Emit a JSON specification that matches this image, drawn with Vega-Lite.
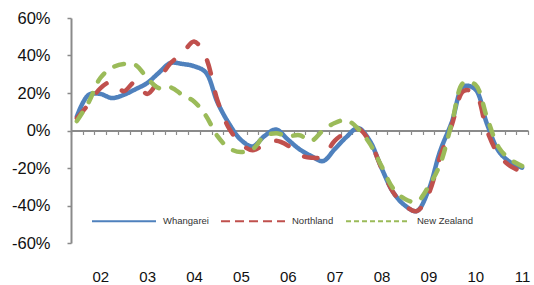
{
  "$schema": "https://vega.github.io/schema/vega-lite/v6.json",
  "width": 457,
  "height": 225,
  "autosize": {"type": "none"},
  "padding": {"left": 71, "top": 18, "right": 6, "bottom": 42},
  "background": "white",
  "config": {"view": {"stroke": null}, "font": "Liberation Sans"},
  "data": {"values": [
    {"q":0,"s":"Whangarei","v":7.5},{"q":1,"s":"Whangarei","v":19},{"q":2,"s":"Whangarei","v":19.5},{"q":3,"s":"Whangarei","v":17.3},{"q":4,"s":"Whangarei","v":19},{"q":5,"s":"Whangarei","v":22},{"q":6,"s":"Whangarei","v":25.3},{"q":7,"s":"Whangarei","v":30.8},{"q":8,"s":"Whangarei","v":36},{"q":9,"s":"Whangarei","v":35.5},{"q":10,"s":"Whangarei","v":34.3},{"q":11,"s":"Whangarei","v":31},{"q":12,"s":"Whangarei","v":15},{"q":13,"s":"Whangarei","v":3.5},{"q":14,"s":"Whangarei","v":-5},{"q":15,"s":"Whangarei","v":-8.5},{"q":16,"s":"Whangarei","v":-3},{"q":17,"s":"Whangarei","v":0.5},{"q":18,"s":"Whangarei","v":-4.8},{"q":19,"s":"Whangarei","v":-10},{"q":20,"s":"Whangarei","v":-13.6},{"q":21,"s":"Whangarei","v":-16.3},{"q":22,"s":"Whangarei","v":-10},{"q":23,"s":"Whangarei","v":-3.5},{"q":24,"s":"Whangarei","v":1.3},{"q":25,"s":"Whangarei","v":-5.5},{"q":26,"s":"Whangarei","v":-20},{"q":27,"s":"Whangarei","v":-33},{"q":28,"s":"Whangarei","v":-40},{"q":29,"s":"Whangarei","v":-43},{"q":30,"s":"Whangarei","v":-32},{"q":31,"s":"Whangarei","v":-11},{"q":32,"s":"Whangarei","v":4.5},{"q":33,"s":"Whangarei","v":23.5},{"q":34,"s":"Whangarei","v":22},{"q":35,"s":"Whangarei","v":3.5},{"q":36,"s":"Whangarei","v":-11},{"q":37,"s":"Whangarei","v":-17},{"q":38,"s":"Whangarei","v":-19.8},
    {"q":0,"s":"Northland","v":6.5},{"q":1,"s":"Northland","v":14},{"q":2,"s":"Northland","v":22.5},{"q":3,"s":"Northland","v":26},{"q":4,"s":"Northland","v":21},{"q":5,"s":"Northland","v":26},{"q":6,"s":"Northland","v":19.5},{"q":7,"s":"Northland","v":27},{"q":8,"s":"Northland","v":36},{"q":9,"s":"Northland","v":41},{"q":10,"s":"Northland","v":47.5},{"q":11,"s":"Northland","v":39},{"q":12,"s":"Northland","v":16},{"q":13,"s":"Northland","v":1},{"q":14,"s":"Northland","v":-7},{"q":15,"s":"Northland","v":-10.5},{"q":16,"s":"Northland","v":-7.5},{"q":17,"s":"Northland","v":-5.5},{"q":18,"s":"Northland","v":-8},{"q":19,"s":"Northland","v":-13},{"q":20,"s":"Northland","v":-14.5},{"q":21,"s":"Northland","v":-14},{"q":22,"s":"Northland","v":-5.5},{"q":23,"s":"Northland","v":-1},{"q":24,"s":"Northland","v":1},{"q":25,"s":"Northland","v":-6},{"q":26,"s":"Northland","v":-20},{"q":27,"s":"Northland","v":-33},{"q":28,"s":"Northland","v":-40},{"q":29,"s":"Northland","v":-43},{"q":30,"s":"Northland","v":-34},{"q":31,"s":"Northland","v":-14},{"q":32,"s":"Northland","v":3},{"q":33,"s":"Northland","v":21},{"q":34,"s":"Northland","v":20},{"q":35,"s":"Northland","v":0},{"q":36,"s":"Northland","v":-13},{"q":37,"s":"Northland","v":-19},{"q":38,"s":"Northland","v":-22},
    {"q":0,"s":"New Zealand","v":5},{"q":1,"s":"New Zealand","v":15},{"q":2,"s":"New Zealand","v":28},{"q":3,"s":"New Zealand","v":33.5},{"q":4,"s":"New Zealand","v":35.5},{"q":5,"s":"New Zealand","v":35},{"q":6,"s":"New Zealand","v":28},{"q":7,"s":"New Zealand","v":22.6},{"q":8,"s":"New Zealand","v":23},{"q":9,"s":"New Zealand","v":19},{"q":10,"s":"New Zealand","v":15.5},{"q":11,"s":"New Zealand","v":8},{"q":12,"s":"New Zealand","v":-3},{"q":13,"s":"New Zealand","v":-9.5},{"q":14,"s":"New Zealand","v":-11.5},{"q":15,"s":"New Zealand","v":-10},{"q":16,"s":"New Zealand","v":-3},{"q":17,"s":"New Zealand","v":-1.5},{"q":18,"s":"New Zealand","v":-3},{"q":19,"s":"New Zealand","v":-2.5},{"q":20,"s":"New Zealand","v":-5.5},{"q":21,"s":"New Zealand","v":0},{"q":22,"s":"New Zealand","v":4},{"q":23,"s":"New Zealand","v":5.5},{"q":24,"s":"New Zealand","v":1},{"q":25,"s":"New Zealand","v":-7},{"q":26,"s":"New Zealand","v":-19},{"q":27,"s":"New Zealand","v":-31},{"q":28,"s":"New Zealand","v":-36.5},{"q":29,"s":"New Zealand","v":-38},{"q":30,"s":"New Zealand","v":-30},{"q":31,"s":"New Zealand","v":-18},{"q":32,"s":"New Zealand","v":4},{"q":33,"s":"New Zealand","v":25.5},{"q":34,"s":"New Zealand","v":24.5},{"q":35,"s":"New Zealand","v":7},{"q":36,"s":"New Zealand","v":-9},{"q":37,"s":"New Zealand","v":-15.5},{"q":38,"s":"New Zealand","v":-19}
  ]},
  "encoding": {
    "x": {
      "field": "q", "type": "quantitative",
      "scale": {"domain": [-0.5, 38.5], "nice": false, "zero": false},
      "axis": {
        "title": null, "orient": "bottom", "offset": -112.5, "grid": false,
        "values": [-0.5,0.5,1.5,2.5,3.5,4.5,5.5,6.5,7.5,8.5,9.5,10.5,11.5,12.5,13.5,14.5,15.5,16.5,17.5,18.5,19.5,20.5,21.5,22.5,23.5,24.5,25.5,26.5,27.5,28.5,29.5,30.5,31.5,32.5,33.5,34.5,35.5,36.5,37.5,38.5,2,6,10,14,18,22,26,30,34,38],
        "labelExpr": "datum.value % 1 == 0 ? (((datum.value - 2) / 4 + 2) < 10 ? '0' : '') + ((datum.value - 2) / 4 + 2) : ''",
        "domainColor": "#8a8a8a", "domainWidth": 2,
        "tickColor": "#8a8a8a", "tickWidth": 1.2, "tickSize": 4,
        "tickOpacity": {"condition": {"test": "datum.value % 1 == 0", "value": 0}, "value": 1},
        "labelPadding": 135, "labelFontSize": 15, "labelColor": "#111111",
        "labelOverlap": false, "labelBound": false, "labelFlush": false
      }
    },
    "y": {
      "field": "v", "type": "quantitative",
      "scale": {"domain": [-60, 60], "nice": false},
      "axis": {
        "title": null, "grid": false, "values": [-60,-40,-20,0,20,40,60],
        "labelExpr": "datum.value + '%'",
        "domainColor": "#8a8a8a", "domainWidth": 2,
        "tickColor": "#8a8a8a", "tickWidth": 1.5, "tickSize": 4,
        "labelPadding": 17, "labelFontSize": 16.5, "labelColor": "#111111"
      }
    }
  },
  "layer": [
    {
      "mark": {"type": "line", "interpolate": "catmull-rom", "strokeWidth": 4.5, "strokeCap": "round"},
      "encoding": {
        "color": {
          "field": "s", "type": "nominal", "sort": null,
          "scale": {"domain": ["Whangarei", "Northland", "New Zealand"], "range": ["#4F81BD", "#C0504D", "#9BBB59"]},
          "legend": null
        },
        "strokeDash": {
          "field": "s", "type": "nominal", "sort": null,
          "scale": {"domain": ["Whangarei", "Northland", "New Zealand"], "range": [[1,0],[13.5,19],[10,12.5]]},
          "legend": null
        }
      }
    },
    {
      "mark": {"type": "line", "interpolate": "catmull-rom", "strokeWidth": 2, "opacity": 0},
      "encoding": {
        "color": {
          "field": "s", "type": "nominal", "sort": null,
          "scale": {"domain": ["Whangarei", "Northland", "New Zealand"], "range": ["#4F81BD", "#C0504D", "#9BBB59"]},
          "legend": {
            "title": null, "orient": "none", "legendX": 20, "legendY": 170, "direction": "horizontal",
            "symbolType": "stroke", "symbolSize": 4096, "symbolStrokeWidth": 2, "symbolOpacity": 1,
            "labelOffset": 6, "columnPadding": 8, "labelFontSize": 9.5, "labelColor": "#333333", "padding": 0
          }
        },
        "strokeDash": {
          "field": "s", "type": "nominal", "sort": null,
          "scale": {"domain": ["Whangarei", "Northland", "New Zealand"], "range": [[1,0],[9,5],[5,3]]},
          "legend": {
            "title": null, "orient": "none", "legendX": 20, "legendY": 170, "direction": "horizontal",
            "symbolType": "stroke", "symbolSize": 4096, "symbolStrokeWidth": 2, "symbolOpacity": 1,
            "labelOffset": 6, "columnPadding": 8, "labelFontSize": 9.5, "labelColor": "#333333", "padding": 0
          }
        }
      }
    }
  ],
  "resolve": {
    "scale": {"color": "independent", "strokeDash": "independent"},
    "legend": {"color": "independent", "strokeDash": "independent"}
  }
}
